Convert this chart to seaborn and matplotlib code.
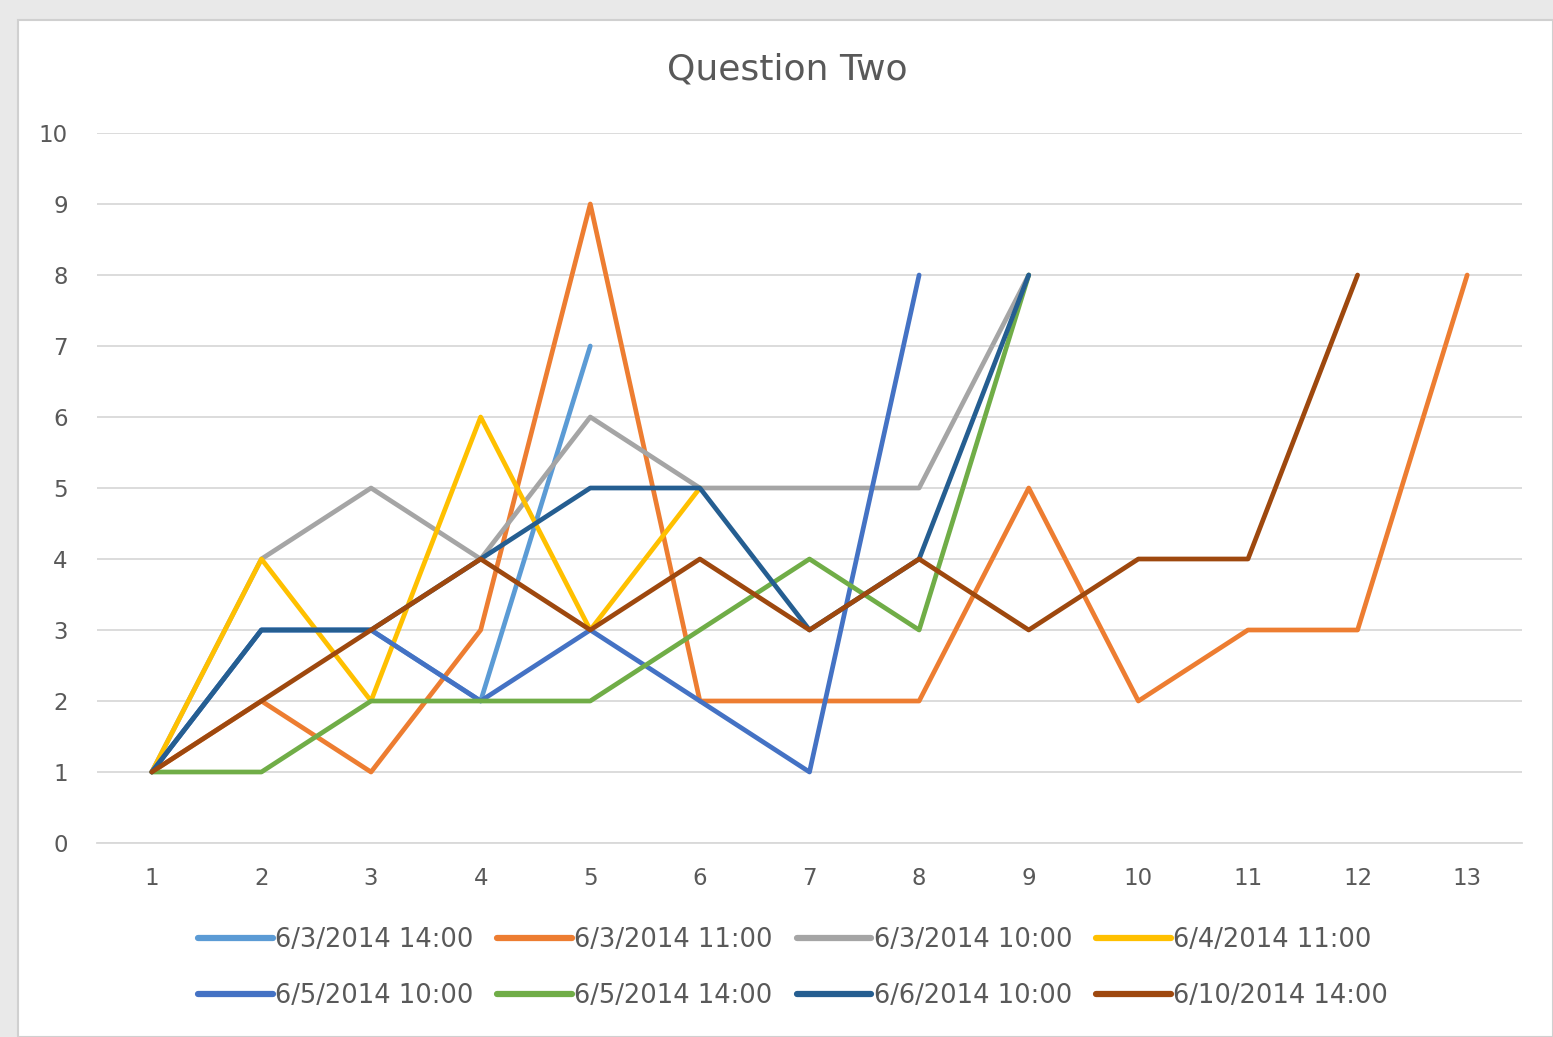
import numpy as np
import pandas as pd
import seaborn as sns
import matplotlib.pyplot as plt
from matplotlib.patches import Rectangle
from matplotlib.lines import Line2D

# series (x = 1..n)
series_names = ["6/3/2014 14:00", "6/3/2014 11:00", "6/3/2014 10:00", "6/4/2014 11:00",
                "6/5/2014 10:00", "6/5/2014 14:00", "6/6/2014 10:00", "6/10/2014 14:00"]
s_0603_1400 = [1, 3, 3, 2, 7]
s_0603_1100 = [1, 2, 1, 3, 9, 2, 2, 2, 5, 2, 3, 3, 8]
s_0603_1000 = [1, 4, 5, 4, 6, 5, 5, 5, 8]
s_0604_1100 = [1, 4, 2, 6, 3, 5]
s_0605_1000 = [1, 3, 3, 2, 3, 2, 1, 8]
s_0605_1400 = [1, 1, 2, 2, 2, 3, 4, 3, 8]
s_0606_1000 = [1, 3, 3, 4, 5, 5, 3, 4, 8]
s_0610_1400 = [1, 2, 3, 4, 3, 4, 3, 4, 3, 4, 4, 8]
colors = ["#5B9BD5", "#ED7D31", "#A5A5A5", "#FFC000",
          "#4472C4", "#70AD47", "#255E91", "#9E480E"]

all_series = [s_0603_1400, s_0603_1100, s_0603_1000, s_0604_1100,
              s_0605_1000, s_0605_1400, s_0606_1000, s_0610_1400]
rows = []
for name, vals in zip(series_names, all_series):
    for i, v in enumerate(vals):
        rows.append({"x": i + 1, "y": v, "series": name})
df = pd.DataFrame(rows)

sns.set_style("white")
plt.rcParams['font.family'] = ['DejaVu Sans']

fig = plt.figure(figsize=(15.53, 10.37), dpi=100, facecolor="#E9E9E9")
# white chart area like the Excel frame
fig.patches.append(Rectangle((18 / 1553, 0), 1 - 18 / 1553, 1 - 20 / 1037,
                             transform=fig.transFigure, facecolor="white",
                             edgecolor="#D0D0D0", linewidth=1.5, zorder=-5))

ax = fig.add_axes([97 / 1553, 1 - 843 / 1037, (1522 - 97) / 1553, (843 - 133) / 1037])
ax.set_facecolor("none")

sns.lineplot(data=df, x="x", y="y", hue="series", hue_order=series_names,
             palette=colors, linewidth=3.4, legend=False, ax=ax, sort=False)

ax.set_xlim(0.5, 13.5)
ax.set_ylim(0, 10)
ax.set_xticks(range(1, 14))
ax.set_yticks(range(0, 11))
ax.tick_params(axis="both", length=0, labelsize=16.5, labelcolor="#595959")
ax.tick_params(axis="x", pad=17)
ax.tick_params(axis="y", pad=21)
ax.grid(axis="y", color="#D9D9D9", linewidth=1.3)
ax.grid(axis="x", visible=False)
for sp in ["top", "right", "left"]:
    ax.spines[sp].set_visible(False)
ax.spines["bottom"].set_color("#D9D9D9")
ax.spines["bottom"].set_linewidth(1.3)
ax.set_xlabel("")
ax.set_ylabel("")

fig.text(787 / 1553, 1 - 70 / 1037, "Question Two", ha="center", va="center",
         fontsize=26, color="#595959")

# matplotlib fills legend columns first, so reorder for row-wise reading
order = [0, 4, 1, 5, 2, 6, 3, 7]
handles = [Line2D([], [], color=colors[i], linewidth=4.5) for i in order]
labels = [series_names[i] for i in order]
fig.legend(handles, labels, loc="center", bbox_to_anchor=(793 / 1553, 1 - 968 / 1037),
           ncol=4, frameon=False, fontsize=18.5, labelcolor="#595959",
           handlelength=2.9, handletextpad=0.08, columnspacing=0.95, labelspacing=1.15)

fig.savefig("out.png", dpi=100, facecolor=fig.get_facecolor())
